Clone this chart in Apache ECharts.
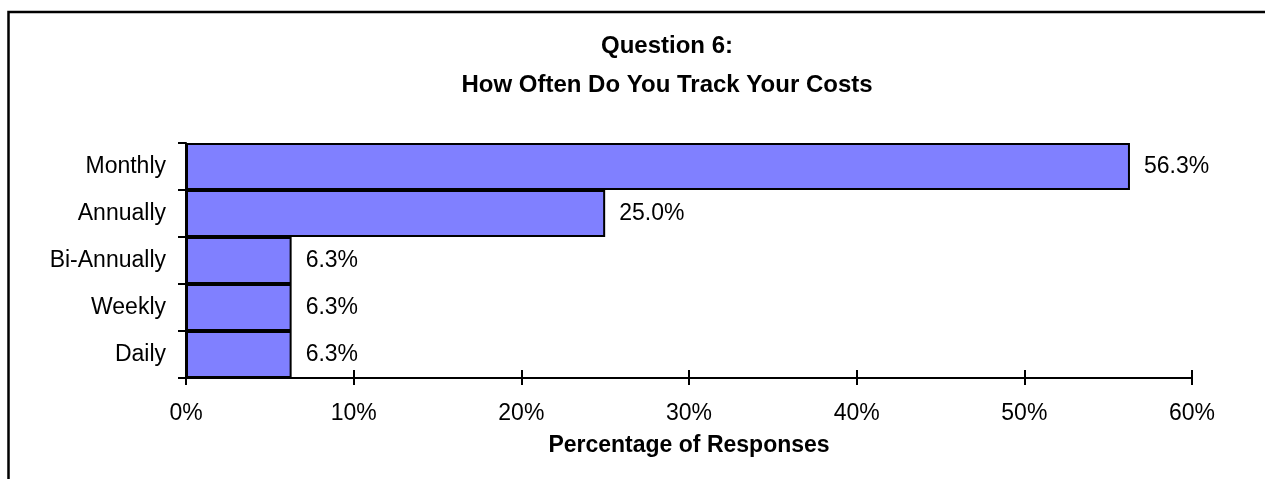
<!DOCTYPE html>
<html>
<head>
<meta charset="utf-8">
<script src="https://cdn.jsdelivr.net/npm/echarts@6/dist/echarts.min.js"></script>
<style>
  html, body { margin: 0; padding: 0; background: #ffffff; }
  #chart { width: 1265px; height: 479px; }
</style>
</head>
<body>
<div id="chart"></div>
<script>
// Survey answers, top to bottom
const categories = ['Monthly', 'Annually', 'Bi-Annually', 'Weekly', 'Daily'];
// Share of responses, in percent
const shares = [56.3, 25.0, 6.3, 6.3, 6.3];
// Percentage scale
const axisMin = 0;
const axisMax = 60;
const axisStep = 10;

const FONT = '"Liberation Sans", Arial, sans-serif';

const chart = echarts.init(document.getElementById('chart'), null, { renderer: 'canvas' });

chart.setOption({
  backgroundColor: '#ffffff',
  animation: false,
  title: {
    text: 'Question 6:\nHow Often Do You Track Your Costs',
    left: 667,
    top: 27,
    padding: 0,
    textAlign: 'center',
    textStyle: {
      fontFamily: FONT,
      fontSize: 24,
      fontWeight: 'bold',
      color: '#000000',
      lineHeight: 39
    }
  },
  // Frame around the chart area
  graphic: [{
    type: 'rect',
    silent: true,
    shape: { x: 8.5, y: 12, width: 1400, height: 700 },
    style: { fill: 'none', stroke: '#000000', lineWidth: 2.5 }
  }],
  grid: {
    left: 186,
    right: 73,
    top: 143,
    bottom: 101,
    containLabel: false,
    outerBoundsMode: 'none'
  },
  xAxis: [{
    type: 'value',
    position: 'bottom',
    min: axisMin,
    max: axisMax,
    interval: axisStep,
    name: 'Percentage of Responses',
    nameLocation: 'middle',
    nameGap: 56,
    nameTextStyle: {
      fontFamily: FONT,
      fontSize: 23,
      fontWeight: 'bold',
      color: '#000000'
    },
    axisLine: { show: true, lineStyle: { color: '#000000', width: 2 } },
    axisTick: { show: true, inside: false, length: 7, lineStyle: { color: '#000000', width: 2 } },
    axisLabel: {
      formatter: '{value}%',
      fontFamily: FONT,
      fontSize: 23,
      color: '#000000',
      margin: 24
    },
    splitLine: { show: false }
  }, {
    // Same scale again, only to draw the upper half of the crossing tick marks
    type: 'value',
    position: 'bottom',
    min: axisMin,
    max: axisMax,
    interval: axisStep,
    axisLine: { show: false },
    axisTick: { show: true, inside: true, length: 8, lineStyle: { color: '#000000', width: 2 } },
    axisLabel: { show: false },
    splitLine: { show: false }
  }],
  yAxis: {
    type: 'category',
    data: categories,
    inverse: true,
    axisLine: { show: true, lineStyle: { color: '#000000', width: 2 } },
    axisTick: { show: true, inside: false, length: 8, lineStyle: { color: '#000000', width: 2 } },
    axisLabel: {
      fontFamily: FONT,
      fontSize: 23,
      color: '#000000',
      margin: 20
    },
    splitLine: { show: false }
  },
  series: [{
    type: 'bar',
    xAxisIndex: 0,
    data: shares,
    barCategoryGap: '0%',
    itemStyle: {
      color: '#8080FF',
      borderColor: '#000000',
      borderWidth: 2
    },
    label: {
      show: true,
      position: 'right',
      distance: 14,
      formatter: p => p.value.toFixed(1) + '%',
      fontFamily: FONT,
      fontSize: 23,
      color: '#000000'
    }
  }]
});
</script>
</body>
</html>
